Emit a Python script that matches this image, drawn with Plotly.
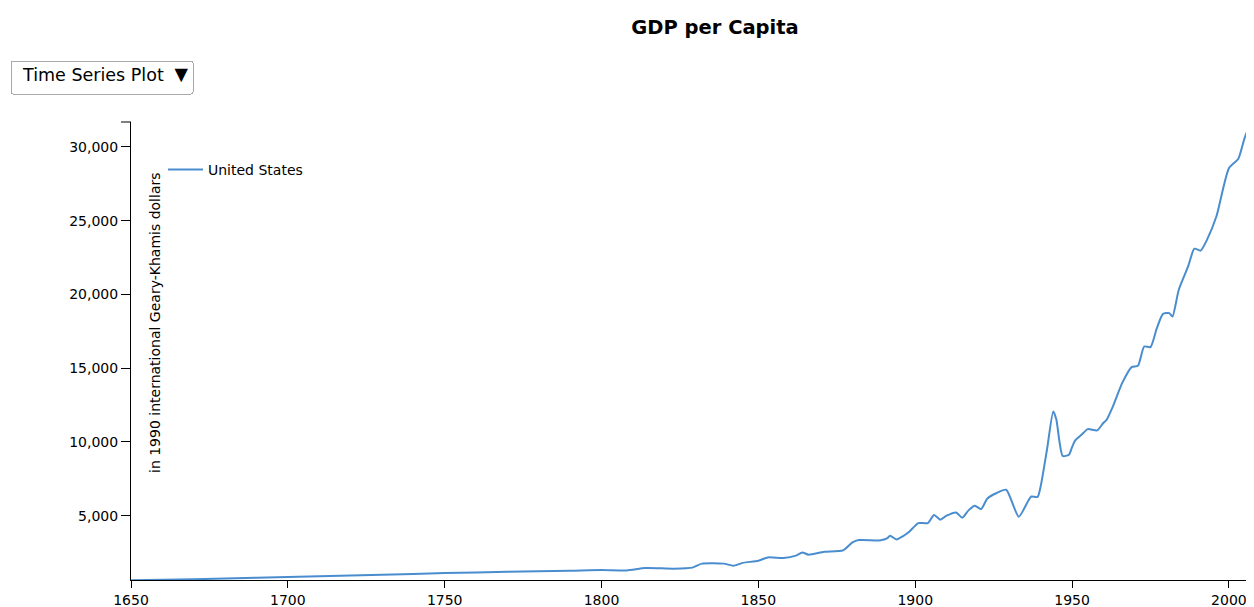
import plotly.graph_objects as go

# ---- data ----
years = [1650, 1670, 1690, 1710, 1730, 1750, 1770, 1790, 1800, 1808, 1814, 1823, 1829,
         1832, 1839, 1842, 1845, 1850, 1853, 1858, 1862, 1864, 1866, 1871, 1877, 1880,
         1882, 1889, 1891, 1892, 1894, 1896, 1898, 1901, 1904, 1906, 1908, 1910, 1913,
         1915, 1917, 1919, 1921, 1923, 1926, 1929, 1933, 1936, 1937, 1939, 1940, 1942,
         1944, 1945, 1946, 1947, 1949, 1950, 1951, 1953, 1955, 1958, 1960, 1961, 1963,
         1966, 1969, 1971, 1973, 1975, 1977, 1979, 1981, 1982, 1984, 1987, 1989, 1991,
         1993, 1996, 2000, 2003, 2005, 2007, 2008]
gdp_us = [620, 690, 790, 900, 1000, 1110, 1200, 1270, 1320, 1290, 1450, 1410, 1480,
          1750, 1750, 1610, 1800, 1950, 2170, 2130, 2290, 2510, 2360, 2560, 2650, 3190,
          3350, 3330, 3460, 3640, 3390, 3600, 3900, 4500, 4500, 5050, 4730, 5000, 5220,
          4860, 5360, 5680, 5450, 6170, 6540, 6760, 4930, 6000, 6300, 6270, 7000, 9470,
          12070, 11500, 10000, 9050, 9130, 9650, 10100, 10480, 10870, 10780, 11300, 11500, 12400,
          14000, 15070, 15160, 16470, 16430, 17700, 18680, 18730, 18500, 20300, 21900, 23100, 22970,
          23700, 25280, 28560, 29200, 30600, 31560, 31270]
series_name = "United States"

x_ticks = [1650, 1700, 1750, 1800, 1850, 1900, 1950, 2000]
y_ticks = [5000, 10000, 15000, 20000, 25000, 30000]

chart_title = "GDP per Capita"
y_title = "in 1990 international Geary-Khamis dollars"
menu_label = "Time Series Plot"

# ---- geometry (page body has an 8px margin; positions are page pixels) ----
OFF = 8
W, H = 1254 - OFF, 607 - OFF
L, R, T, B = 131 - OFF, 0, 122 - OFF, 27
PW, PH = W - L - R, H - T - B
FONT = "DejaVu Sans"

def px_x(px):
    return (px - OFF - L) / PW

def px_y(py):
    return (H - B - (py - OFF)) / PH

fig = go.Figure()
fig.add_trace(go.Scatter(
    x=years, y=gdp_us, mode="lines", name=series_name,
    line=dict(color="#4a8dcf", width=2, shape="spline", smoothing=0.6),
    showlegend=True,
))

fig.update_layout(
    width=W, height=H,
    margin=dict(l=L, r=R, t=T, b=B, pad=0, autoexpand=False),
    paper_bgcolor="white", plot_bgcolor="white",
    font=dict(family=FONT, size=14, color="black"),
    title=dict(text="<b>" + chart_title + "</b>", x=(715 - OFF) / W, xref="container",
               y=1 - (27 - OFF) / H, yref="container", xanchor="center", yanchor="middle",
               font=dict(family=FONT, size=19.5, color="black")),
    xaxis=dict(range=[1650, 2008], tickvals=x_ticks, tickformat="d", automargin=False,
               showgrid=False, zeroline=False, showline=True, linecolor="black",
               linewidth=1, ticks="outside", ticklen=7, tickcolor="black",
               ticklabelstandoff=0,
               tickfont=dict(family=FONT, size=14, color="black")),
    yaxis=dict(range=[640, 31690], tickvals=y_ticks, tickformat=",d", automargin=False,
               showgrid=False, zeroline=False, showline=True, linecolor="black",
               linewidth=1, ticks="outside", ticklen=9, tickcolor="black",
               tickfont=dict(family=FONT, size=14, color="black")),
    legend=dict(x=px_x(163), y=px_y(154), xanchor="left", yanchor="top",
                bgcolor="rgba(0,0,0,0)", borderwidth=0, itemwidth=35,
                font=dict(family=FONT, size=14, color="black")),
    showlegend=True,
    annotations=[dict(text=y_title, textangle=-90, xref="paper", yref="paper",
                      x=px_x(155), y=px_y(323), xanchor="center", yanchor="middle",
                      showarrow=False, font=dict(family=FONT, size=14, color="black"))],
    shapes=[dict(type="line", xref="paper", yref="paper", x0=px_x(121), x1=0,
                 y0=1, y1=1, line=dict(color="black", width=1))],
    updatemenus=[dict(type="dropdown", buttons=[dict(label=menu_label, method="skip", args=[None])],
                      x=px_x(10), y=px_y(60), xanchor="left", yanchor="top",
                      pad=dict(l=0, r=0, t=0, b=0), bgcolor="white", bordercolor="#a9a9a9",
                      borderwidth=1, showactive=False,
                      font=dict(family=FONT, size=17.5, color="black"))],
)

fig.write_html("out.html")
